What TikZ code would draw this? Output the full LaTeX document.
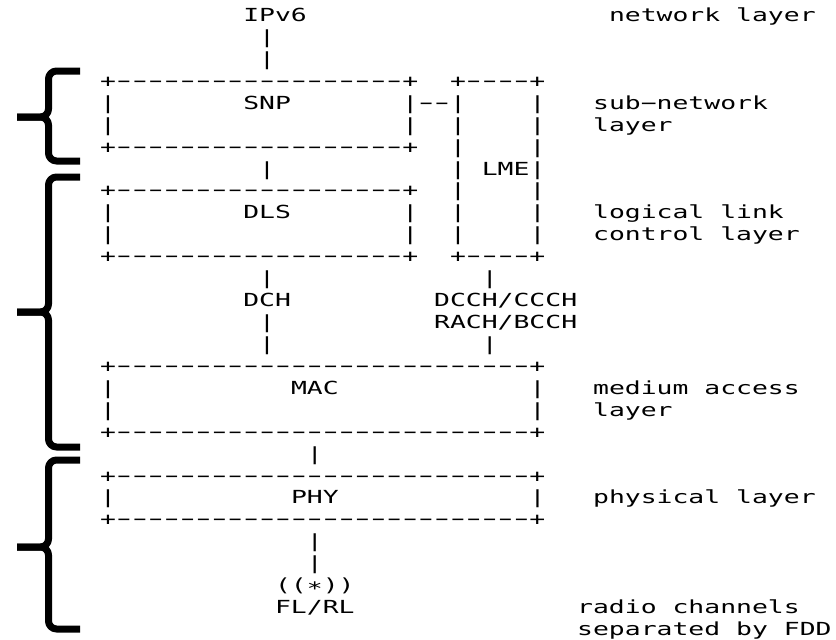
\documentclass[tikz,border=0pt]{standalone}
\usepackage{fontspec}
\usepackage{graphicx}
\newfontfamily\asciimono[FakeStretch=1.467,Ligatures=TeXOff]{DejaVu Sans Mono}
\tikzset{
  asc/.style={font=\asciimono\fontsize{18}{18}\selectfont, inner sep=0pt, anchor=base west, text=black},
  brace/.style={line width=7pt, rounded corners=8pt, line join=round, draw=black}
}
% one dash of an ASCII box border, one character cell wide
\newcommand\dsh{\makebox[\fontcharwd\font`0][c]{\scalebox{0.8}[1]{−}}}
\newcommand\dashrow[1]{\foreach \i in {1,...,#1}{\dsh}}
% place text on the character grid: name, column, row, text
\newcommand\gch[4]{\node[asc] (#1) at ({100+15.9*#2},{21.5+21.93*#3}) {#4};}
\begin{document}
\begin{tikzpicture}[x=1pt,y=-1pt]
\useasboundingbox (0,0) rectangle (836,640);
% network layer
\gch{ipv6}{9}{0}{IPv6}
\gch{netlbl}{32}{0}{network layer}
\gch{ipbarA}{10}{1}{|}
\gch{ipbarB}{10}{2}{|}
% SNP box
\gch{snpT}{0}{3}{+\dashrow{18}+}
\foreach \r in {4,5}{\gch{snpL\r}{0}{\r}{|}\gch{snpR\r}{19}{\r}{|}}
\gch{snpB}{0}{6}{+\dashrow{18}+}
\gch{snp}{9}{4}{SNP}
\gch{snplme}{20}{4}{\dashrow{2}}
\gch{sublblA}{31}{4}{sub−network}
\gch{sublblB}{31}{5}{layer}
% LME box
\gch{lmeT}{22}{3}{+\dashrow{4}+}
\foreach \r in {4,...,10}{\gch{lmeL\r}{22}{\r}{|}\gch{lmeR\r}{27}{\r}{|}}
\gch{lmeB}{22}{11}{+\dashrow{4}+}
\gch{lme}{24}{7}{LME}
% SNP -- DLS
\gch{sdbar}{10}{7}{|}
% DLS box
\gch{dlsT}{0}{8}{+\dashrow{18}+}
\foreach \r in {9,10}{\gch{dlsL\r}{0}{\r}{|}\gch{dlsR\r}{19}{\r}{|}}
\gch{dlsB}{0}{11}{+\dashrow{18}+}
\gch{dls}{9}{9}{DLS}
\gch{loglblA}{31}{9}{logical link}
\gch{loglblB}{31}{10}{control layer}
% channels
\gch{dchbarA}{10}{12}{|}
\gch{dch}{9}{13}{DCH}
\gch{dchbarB}{10}{14}{|}
\gch{dchbarC}{10}{15}{|}
\gch{ctlbarA}{24}{12}{|}
\gch{dcch}{21}{13}{DCCH/CCCH}
\gch{rach}{21}{14}{RACH/BCCH}
\gch{ctlbarB}{24}{15}{|}
% MAC box
\gch{macT}{0}{16}{+\dashrow{26}+}
\foreach \r in {17,18}{\gch{macL\r}{0}{\r}{|}\gch{macR\r}{27}{\r}{|}}
\gch{macB}{0}{19}{+\dashrow{26}+}
\gch{mac}{12}{17}{MAC}
\gch{medlblA}{31}{17}{medium access}
\gch{medlblB}{31}{18}{layer}
\gch{mpbar}{13}{20}{|}
% PHY box
\gch{phyT}{0}{21}{+\dashrow{26}+}
\gch{phyL}{0}{22}{|}
\gch{phyR}{27}{22}{|}
\gch{phyB}{0}{23}{+\dashrow{26}+}
\gch{phy}{12}{22}{PHY}
\gch{phylbl}{31}{22}{physical layer}
% radio
\gch{radbarA}{13}{24}{|}
\gch{radbarB}{13}{25}{|}
\gch{ant}{11}{26}{((∗))}
\gch{flrl}{11}{27}{FL/RL}
\gch{radlblA}{30}{27}{radio channels}
\gch{radlblB}{30}{28}{separated by FDD}
% braces
\coordinate (b1t) at (80,71);  \coordinate (b1m) at (17,117); \coordinate (b1b) at (80,161);
\draw[brace] (b1t) -- (48.5,71) -- (48.5,117) -- (b1m);
\draw[brace] (b1m) -- (48.5,117) -- (48.5,161) -- (b1b);
\coordinate (b2t) at (80,177); \coordinate (b2m) at (17,312); \coordinate (b2b) at (80,447);
\draw[brace] (b2t) -- (48.5,177) -- (48.5,312) -- (b2m);
\draw[brace] (b2m) -- (48.5,312) -- (48.5,447) -- (b2b);
\coordinate (b3t) at (80,460); \coordinate (b3m) at (17,547); \coordinate (b3b) at (80,629);
\draw[brace] (b3t) -- (48.5,460) -- (48.5,547) -- (b3m);
\draw[brace] (b3m) -- (48.5,547) -- (48.5,629) -- (b3b);
\end{tikzpicture}
\end{document}
